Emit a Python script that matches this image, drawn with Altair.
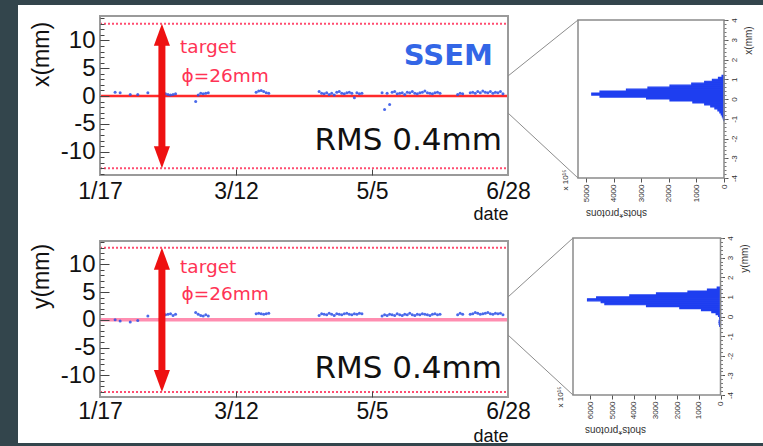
import altair as alt
import pandas as pd

# ---------------------------------------------------------------
# Daily beam centre measured by the SSEM during the 2010 run (mm)
# ---------------------------------------------------------------
dates = [
    "2010-01-23", "2010-01-25", "2010-01-29", "2010-02-01", "2010-02-05",
    "2010-02-11", "2010-02-12", "2010-02-13", "2010-02-14", "2010-02-15", "2010-02-16",
    "2010-02-24", "2010-02-25", "2010-02-26", "2010-02-27", "2010-02-28", "2010-03-01",
    "2010-03-20", "2010-03-21", "2010-03-22", "2010-03-23", "2010-03-24", "2010-03-25",
    "2010-04-14", "2010-04-15", "2010-04-16", "2010-04-17", "2010-04-18", "2010-04-19",
    "2010-04-20", "2010-04-21", "2010-04-22", "2010-04-23", "2010-04-24", "2010-04-25",
    "2010-04-26", "2010-04-27", "2010-04-28", "2010-04-29", "2010-04-30", "2010-05-01",
    "2010-05-09", "2010-05-10", "2010-05-11", "2010-05-12", "2010-05-13", "2010-05-14",
    "2010-05-15", "2010-05-16", "2010-05-17", "2010-05-18", "2010-05-19", "2010-05-20",
    "2010-05-21", "2010-05-22", "2010-05-23", "2010-05-24", "2010-05-25", "2010-05-26",
    "2010-05-27", "2010-05-28", "2010-05-29", "2010-05-30", "2010-05-31", "2010-06-01",
    "2010-06-08", "2010-06-09", "2010-06-10",
    "2010-06-13", "2010-06-14", "2010-06-15", "2010-06-16", "2010-06-17", "2010-06-18",
    "2010-06-19", "2010-06-20", "2010-06-21", "2010-06-22", "2010-06-23", "2010-06-24",
    "2010-06-25", "2010-06-26",
]

x_mm = [
    0.7, 0.6, 0.3, 0.3, 0.6,
    0.3, 0.4, 0.3, 0.2, 0.3, 0.4,
    -1.0, 0.2, 0.5, 0.4, 0.5, 0.6,
    0.7, 0.9, 1.0, 0.8, 0.6, 0.5,
    0.8, 0.5, 0.4, 0.6, 0.3, 0.5,
    0.2, 0.7, 0.8, 0.5, 0.4, 0.6,
    0.7, 0.5, -0.3, 0.6, 0.4, 0.5,
    0.6, -2.4, 0.5, -1.5, 0.7, 0.8,
    0.4, 0.5, 0.6, 0.3, 0.7, 0.6,
    0.8, 0.5, 0.4, 0.6, 0.7, 0.9,
    0.6, 0.5, 0.4, 0.6, 0.7, 0.5,
    0.3, 0.5, 0.4,
    0.6, 0.7, 0.5, 0.8, 0.6, 0.9,
    0.7, 0.6, 0.8, 0.5, 0.7, 0.6,
    0.8, 0.4,
]

y_mm = [
    0.0, -0.2, -0.4, -0.1, 0.7,
    1.3, 0.9, 1.0, 1.1, 0.8, 1.0,
    1.3, 1.0, 0.8, 0.7, 0.9, 0.7,
    1.1, 1.2, 1.1, 1.0, 1.1, 1.2,
    0.8, 1.1, 1.0, 0.9, 1.2, 1.0,
    0.8, 1.1, 1.0, 0.9, 1.1, 1.2,
    1.0, 0.9, 1.1, 1.0, 1.2, 1.1,
    0.7, 0.9, 0.8, 1.0, 0.9, 0.8,
    1.1, 0.9, 0.8, 1.0, 0.9, 1.2,
    0.9, 0.8, 1.0, 0.9, 1.1, 1.0,
    0.9, 0.8, 1.0, 1.1, 0.9, 1.0,
    0.9, 1.2, 1.0,
    1.0, 1.1, 1.3, 1.2, 1.0, 1.1,
    1.2, 1.3, 1.1, 1.0, 1.2, 1.1,
    1.2, 0.9,
]

tick_dates = ["2010-01-17", "2010-03-12", "2010-05-05", "2010-06-28"]
tick_labels = ["1/17", "3/12", "5/5", "6/28"]

target_date = "2010-02-10 14:00"
target_radius = 13.0  # target diameter 26 mm
rms_text = "RMS 0.4mm"

# Proton-weighted position distributions, 0.1 mm bins (x 10^15 protons)
x_bin_lo = [-1.1, -1.0, -0.9, -0.8, -0.7, -0.6, -0.5, -0.4, -0.3, -0.2, -0.1, 0.0,
            0.1, 0.2, 0.3, 0.4, 0.5, 0.6, 0.7, 0.8, 0.9, 1.0, 1.1]
x_bin_pot = [12, 30, 60, 100, 150, 220, 330, 480, 700, 1130, 1960, 2810,
             4500, 4800, 4500, 3540, 2760, 1960, 1170, 700, 420, 200, 70]

y_bin_lo = [-0.5, -0.4, -0.3, -0.2, -0.1, 0.0, 0.1, 0.2, 0.3, 0.4, 0.5, 0.6,
            0.7, 0.8, 0.9, 1.0, 1.1, 1.2, 1.3, 1.4]
y_bin_pot = [40, 60, 60, 30, 40, 90, 200, 400, 875, 1875, 3410, 5330,
             5500, 6130, 5710, 4180, 2950, 1500, 600, 150]
BIN_W = 0.1

# ---------------------------------------------------------------
# Styling / layout
# ---------------------------------------------------------------
W, H = 763, 446
FONT = "Liberation Sans"
WIDE = "DejaVu Sans"
BG = "#33454c"
FRAME = "#9a9a9a"
BLUE_PTS = "#2b50e6"
BLUE_H = "#1f3ff0"
RED = "#ee1111"
PINK_TXT = "#ff3355"
DOT = "#ff4d70"
INK = "#111111"
TIME_X = [100, 508]
PLAIN_NUM = "'' + datum.value"   # hyphen-minus labels

t0 = pd.Timestamp(tick_dates[0])


def day_of(s):
    return (pd.Timestamp(s) - t0) / pd.Timedelta(days=1)


tick_days = [day_of(d) for d in tick_dates]
day_max = tick_days[-1]
label_expr = " : ".join(
    f"datum.value == {d:g} ? '{l}'" for d, l in zip(tick_days, tick_labels)
) + " : ''"

one = pd.DataFrame({"k": [0]})


def q(ch, field, scale, axis=None):
    cls = alt.X if ch == "x" else alt.Y
    return cls(field, type="quantitative", scale=scale, axis=axis)


def time_panel(values, axis_title, top, bottom, ydom, zero_color, zero_width,
               title_y, date_y, label_pad, txt_pos, show_ssem):
    xs = lambda: alt.Scale(domain=[0, day_max], range=TIME_X, nice=False, zero=False)
    ys = lambda: alt.Scale(domain=ydom, range=[bottom, top], nice=False, zero=False)
    px_mm = (bottom - top) / (ydom[1] - ydom[0])
    layers = []

    # dotted target edges
    edges = pd.DataFrame({"v": [-target_radius, target_radius], "a": 0.0, "b": day_max})
    layers.append(alt.Chart(edges).mark_rule(color=DOT, strokeDash=[2, 2], strokeWidth=2).encode(
        x=q("x", "a", xs()), x2="b", y=q("y", "v", ys())))

    # zero line
    zero = pd.DataFrame({"v": [0.0], "a": 0.0, "b": day_max})
    layers.append(alt.Chart(zero).mark_rule(color=zero_color, strokeWidth=zero_width).encode(
        x=q("x", "a", xs()), x2="b", y=q("y", "v", ys())))

    # daily measurements
    pts = pd.DataFrame({"day": [day_of(d) for d in dates], "v": values})
    layers.append(alt.Chart(pts).mark_circle(size=9, color=BLUE_PTS, opacity=0.85).encode(
        x=q("x", "day", xs()), y=q("y", "v", ys())))

    # target-size arrow
    head = 22
    head_mm = head / px_mm
    tday = day_of(target_date)
    shaft = pd.DataFrame({"d": [tday], "lo": [-target_radius + 0.8 * head_mm],
                          "hi": [target_radius - 0.8 * head_mm]})
    layers.append(alt.Chart(shaft).mark_rule(color=RED, strokeWidth=7).encode(
        x=q("x", "d", xs()), y=q("y", "lo", ys()), y2="hi"))
    up = pd.DataFrame({"d": [tday], "v": [target_radius]})
    dn = pd.DataFrame({"d": [tday], "v": [-target_radius]})
    layers.append(alt.Chart(up).mark_point(shape="M0,-1L0.73,1L-0.73,1Z", size=head * head,
                                           filled=True, color=RED, opacity=1,
                                           yOffset=head / 2).encode(
        x=q("x", "d", xs()), y=q("y", "v", ys())))
    layers.append(alt.Chart(dn).mark_point(shape="M0,1L0.73,-1L-0.73,-1Z", size=head * head,
                                           filled=True, color=RED, opacity=1,
                                           yOffset=-head / 2).encode(
        x=q("x", "d", xs()), y=q("y", "v", ys())))

    # annotations
    def label(txt, d, v, **kw):
        df = pd.DataFrame({"d": [d], "v": [v], "t": [txt]})
        return alt.Chart(df).mark_text(baseline="alphabetic", **kw).encode(
            x=q("x", "d", xs()), y=q("y", "v", ys()), text="t:N")

    layers.append(label("target", *txt_pos["target"], align="left", font=WIDE,
                        fontSize=18.5, color=PINK_TXT))
    layers.append(label("ϕ=26mm", *txt_pos["phi"], align="left", font=WIDE,
                        fontSize=18.5, color=PINK_TXT))
    layers.append(label(rms_text, *txt_pos["rms"], align="right", font=WIDE,
                        fontSize=31, color=INK))
    if show_ssem:
        layers.append(label("SSEM", *txt_pos["ssem"], align="right", font=WIDE,
                            fontSize=29, fontWeight="bold", color="#3366e6"))

    # frame
    fr = pd.DataFrame({"a": [0.0], "b": [day_max], "c": [ydom[0]], "e": [ydom[1]]})
    layers.append(alt.Chart(fr).mark_rect(fillOpacity=0, stroke=FRAME, strokeWidth=2).encode(
        x=q("x", "a", xs()), x2="b", y=q("y", "c", ys()), y2="e"))

    # axes (each carried by an invisible point)
    def axis_layer(xaxis=None, yaxis=None):
        return alt.Chart(one.assign(d=0.0, v=0.0)).mark_point(opacity=0).encode(
            x=q("x", "d", xs(), xaxis), y=q("y", "v", ys(), yaxis))

    layers.append(axis_layer(yaxis=alt.Axis(
        orient="left", offset=-TIME_X[0], values=[-10, -5, 0, 5, 10], ticks=False, tickSize=0,
        domain=False, grid=False, labelFont=FONT, labelFontSize=24, labelColor=INK,
        labelExpr=PLAIN_NUM, labelPadding=5, labelFlush=False, labelOverlap=False, zindex=1,
        title=axis_title, titleFont=FONT, titleFontSize=23, titleFontWeight="normal",
        titleColor=INK, titleAngle=270, titleX=41 - TIME_X[0], titleY=title_y,
        titleAlign="center", titleBaseline="middle")))
    layers.append(axis_layer(yaxis=alt.Axis(
        orient="right", offset=TIME_X[0] - W, values=[-10, -5, 0, 5, 10], tickSize=9,
        tickColor="#444444", labels=False, domain=False, grid=False, title=None, zindex=1)))
    layers.append(axis_layer(yaxis=alt.Axis(
        orient="right", offset=TIME_X[0] - W, values=list(range(-14, 15)), tickSize=4,
        tickColor="#444444", labels=False, domain=False, grid=False, title=None, zindex=1)))
    layers.append(axis_layer(xaxis=alt.Axis(
        orient="bottom", offset=bottom - H, values=tick_days, labelExpr=label_expr,
        ticks=False, tickSize=0, domain=False, grid=False, labelFont=FONT, labelFontSize=23,
        labelColor=INK, labelPadding=label_pad, labelFlush=False, labelOverlap=False,
        zindex=1, title="date", titleFont=FONT, titleFontSize=18, titleFontWeight="normal",
        titleColor=INK, titleX=TIME_X[1], titleY=date_y - bottom, titleAlign="right",
        titleBaseline="alphabetic")))
    layers.append(axis_layer(xaxis=alt.Axis(
        orient="top", offset=-bottom, values=tick_days[1:-1], tickSize=6,
        tickColor="#444444", labels=False, domain=False, grid=False, title=None, zindex=1)))
    return layers


def hist_panel(lo, pot, xmax, left, right, top, bottom, axis_title, count_ticks,
               title_cx):
    xs = lambda: alt.Scale(domain=[0, xmax], range=[right, left], nice=False, zero=False)
    ys = lambda: alt.Scale(domain=[-4, 4], range=[bottom, top], nice=False, zero=False)
    layers = []
    bins = pd.DataFrame({"lo": lo, "hi": [b + BIN_W for b in lo], "n": pot, "base": 0})
    layers.append(alt.Chart(bins).mark_rect(color=BLUE_H, stroke=BLUE_H, strokeWidth=1.2).encode(
        x=q("x", "n", xs()), x2="base", y=q("y", "lo", ys()), y2="hi"))
    fr = pd.DataFrame({"a": [0.0], "b": [xmax], "c": [-4.0], "e": [4.0]})
    layers.append(alt.Chart(fr).mark_rect(fillOpacity=0, stroke="#8a8a8a", strokeWidth=1.5).encode(
        x=q("x", "a", xs()), x2="b", y=q("y", "c", ys()), y2="e"))

    def axis_layer(xaxis=None, yaxis=None):
        return alt.Chart(one.assign(d=0.0, v=0.0)).mark_point(opacity=0).encode(
            x=q("x", "d", xs(), xaxis), y=q("y", "v", ys(), yaxis))

    layers.append(axis_layer(yaxis=alt.Axis(
        orient="right", offset=right - W, values=list(range(-4, 5)), tickSize=4,
        tickColor="#555555", domain=False, grid=False, labelFont=FONT, labelFontSize=8,
        labelColor="#333333", labelAngle=270, labelAlign="center", labelBaseline="top",
        labelExpr=PLAIN_NUM, labelPadding=2, labelFlush=False, labelOverlap=False, zindex=1,
        title=axis_title, titleFont=FONT, titleFontSize=10, titleFontWeight="normal",
        titleColor="#333333", titleAngle=270, titleX=24, titleY=top + 20,
        titleAlign="center", titleBaseline="middle")))
    layers.append(axis_layer(yaxis=alt.Axis(
        orient="right", offset=right - W, values=[v / 5 for v in range(-20, 21)], tickSize=2,
        tickColor="#777777", labels=False, domain=False, grid=False, title=None, zindex=1)))
    layers.append(axis_layer(xaxis=alt.Axis(
        orient="bottom", offset=bottom - H, values=count_ticks, tickSize=4,
        tickColor="#555555", domain=False, grid=False, labelFont=FONT, labelFontSize=8,
        labelColor="#333333", labelAngle=270, labelAlign="right", labelBaseline="middle",
        labelPadding=2, labelFlush=False, labelOverlap=False, labelExpr=PLAIN_NUM, zindex=1,
        title="shots*protons", titleFont=FONT, titleFontSize=10, titleFontWeight="normal",
        titleColor="#333333", titleAngle=180, titleX=title_cx, titleY=34,
        titleAlign="center", titleBaseline="middle")))
    exp = pd.DataFrame({"d": [xmax * 1.08], "v": [-4.1], "t": ["x 10¹⁵"]})
    layers.append(alt.Chart(exp).mark_text(angle=270, font=FONT, fontSize=8, color="#333333",
                                           align="center", baseline="middle").encode(
        x=q("x", "d", xs()), y=q("y", "v", ys()), text="t:N"))
    return layers


def connector(x1, y1, x2, y2):
    return alt.Chart(one).mark_rule(color="#8c8c8c", strokeWidth=1).encode(
        x=alt.value(x1), y=alt.value(y1), x2=alt.value(x2), y2=alt.value(y2))


sheet = alt.Chart(one).mark_rect(color="white").encode(
    x=alt.value(18), x2=alt.value(W), y=alt.value(5), y2=alt.value(443))

layers = [sheet]
layers += time_panel(
    x_mm, "x(mm)", top=16, bottom=175, ydom=[-14.2, 14.4], zero_color="#ff2a2a",
    zero_width=2.5, title_y=54, date_y=219, label_pad=5,
    txt_pos={"target": (31.8, 7.8), "phi": (32.4, 2.6), "rms": (159.6, -9.7),
             "ssem": (156.0, 5.6)},
    show_ssem=True)
layers += time_panel(
    y_mm, "y(mm)", top=241, bottom=397, ydom=[-13.9, 14.2], zero_color="#ff8db0",
    zero_width=3.5, title_y=276, date_y=441, label_pad=3,
    txt_pos={"target": (31.8, 8.4), "phi": (32.4, 3.6), "rms": (159.6, -10.5)},
    show_ssem=False)
layers += hist_panel(x_bin_lo, x_bin_pot, 5300, 578, 724, 20, 178, "x(mm)",
                     [0, 1000, 2000, 3000, 4000, 5000], 616)
layers += hist_panel(y_bin_lo, y_bin_pot, 6800, 573, 720.5, 238, 395, "y(mm)",
                     [0, 1000, 2000, 3000, 4000, 5000, 6000], 615)
layers += [
    connector(508, 76, 578, 20), connector(508, 113, 578, 178),
    connector(508, 297, 573, 238), connector(508, 335, 573, 395),
]

chart = alt.layer(*layers).resolve_scale(x="independent", y="independent").properties(
    width=W, height=H, padding=0, background=BG,
    autosize=alt.AutoSizeParams(type="none"),
).configure_view(strokeWidth=0)

chart.save("out.html", embed_options={"renderer": "svg", "actions": False})
